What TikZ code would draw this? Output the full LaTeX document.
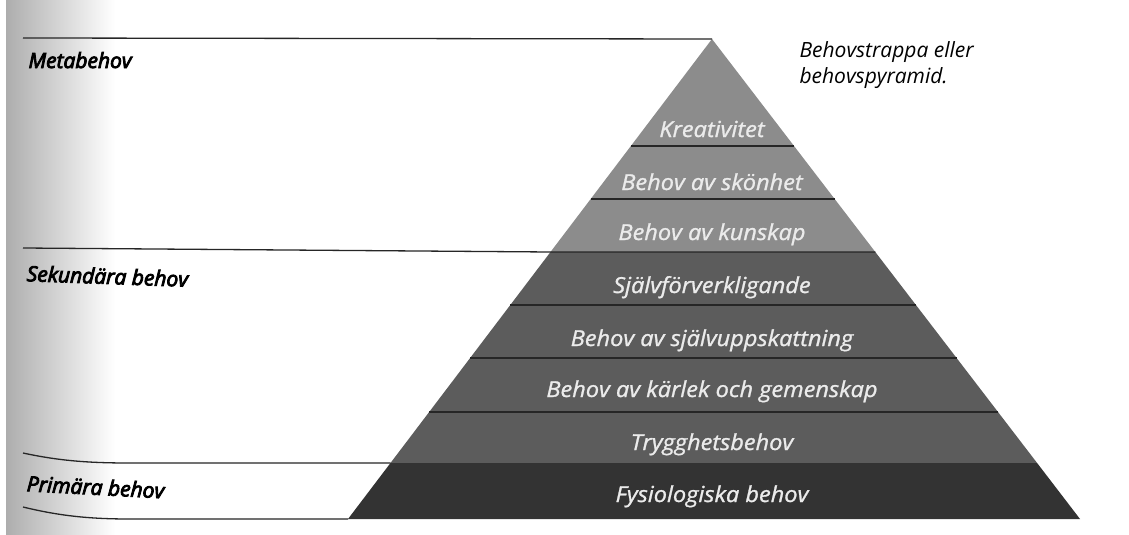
\documentclass[tikz,border=0pt]{standalone}
\usepackage{fontspec}
\setmainfont{Open Sans}
\newfontfamily\nivafont{Open Sans}[FakeBold=4]
\newfontfamily\behovfont{Open Sans}[FakeStretch=1.07,FakeBold=1.2]
\definecolor{metagray}{gray}{0.55}
\definecolor{sekgray}{gray}{0.36}
\definecolor{primgray}{gray}{0.2}
\definecolor{textgray}{gray}{0.92}
\begin{document}
\begin{tikzpicture}[x=1pt,y=-1pt,
    behovtext/.style={anchor=base,text=textgray,font=\behovfont\itshape\fontsize{22}{26}\selectfont},
    nivatext/.style={anchor=base west,font=\nivafont\itshape\fontsize{21}{25}\selectfont},
    linje/.style={line width=1.3pt,black!85}]
            
            \useasboundingbox (0,0) rectangle (1129,535);
            \fill[white] (0,0) rectangle (1129,535);
            \shade[left color=black!32,right color=white] (6,0) rectangle (115,535);
            
            \fill[metagray] (712,39) -- (550.5,252) -- (875.3,252) -- cycle;
            \fill[sekgray] (550.5,252) -- (390.5,463) -- (1037.1,463) -- (875.3,252) -- cycle;
            \fill[primgray] (390.5,463) -- (348,519) -- (1080,519) -- (1037.1,463) -- cycle;
            
            \draw[linje] (630.9,146) -- (794,146);
            \draw[linje] (590.7,199) -- (834.7,199);
            \draw[linje] (510.3,305) -- (915.9,305);
            \draw[linje] (470.1,358) -- (956.6,358);
            \draw[linje] (429.1,412) -- (998,412);
            
            \draw[linje] (23,38) -- (712,39);
            \draw[linje] (23,248) -- (550.5,252) -- (875.3,252);
            \draw[linje] (23,453) .. controls (60,461) and (90,463) .. (130,463) -- (390.5,463);
            \draw[linje] (23,507) .. controls (60,516) and (90,519) .. (130,519) -- (348,519);
            
            \node[nivatext] (meta) at (25,68) {Metabehov};
            \node[nivatext,rotate=-2] (sekundar) at (23,281) {Sekundära behov};
            \node[nivatext,rotate=-3] (primar) at (23,491) {Primära behov};
            
            \node[anchor=base west,font=\itshape\fontsize{21}{25}\selectfont] (rubrik1) at (796,57) {Behovstrappa eller};
            \node[anchor=base west,font=\itshape\fontsize{21}{25}\selectfont] (rubrik2) at (796,83) {behovspyramid.};
            
            \node[behovtext] (kreativitet) at (712,137) {Kreativitet};
            \node[behovtext] (skonhet) at (712,190) {Behov av skönhet};
            \node[behovtext] (kunskap) at (712,240) {Behov av kunskap};
            \node[behovtext] (sjalvforv) at (712,293) {Självförverkligande};
            \node[behovtext] (uppskatt) at (712,346) {Behov av självuppskattning};
            \node[behovtext] (karlek) at (712,397) {Behov av kärlek och gemenskap};
            \node[behovtext] (trygghet) at (712,450) {Trygghetsbehov};
            \node[behovtext] (fysiol) at (712,502) {Fysiologiska behov};
            
        \end{tikzpicture}
\end{document}
